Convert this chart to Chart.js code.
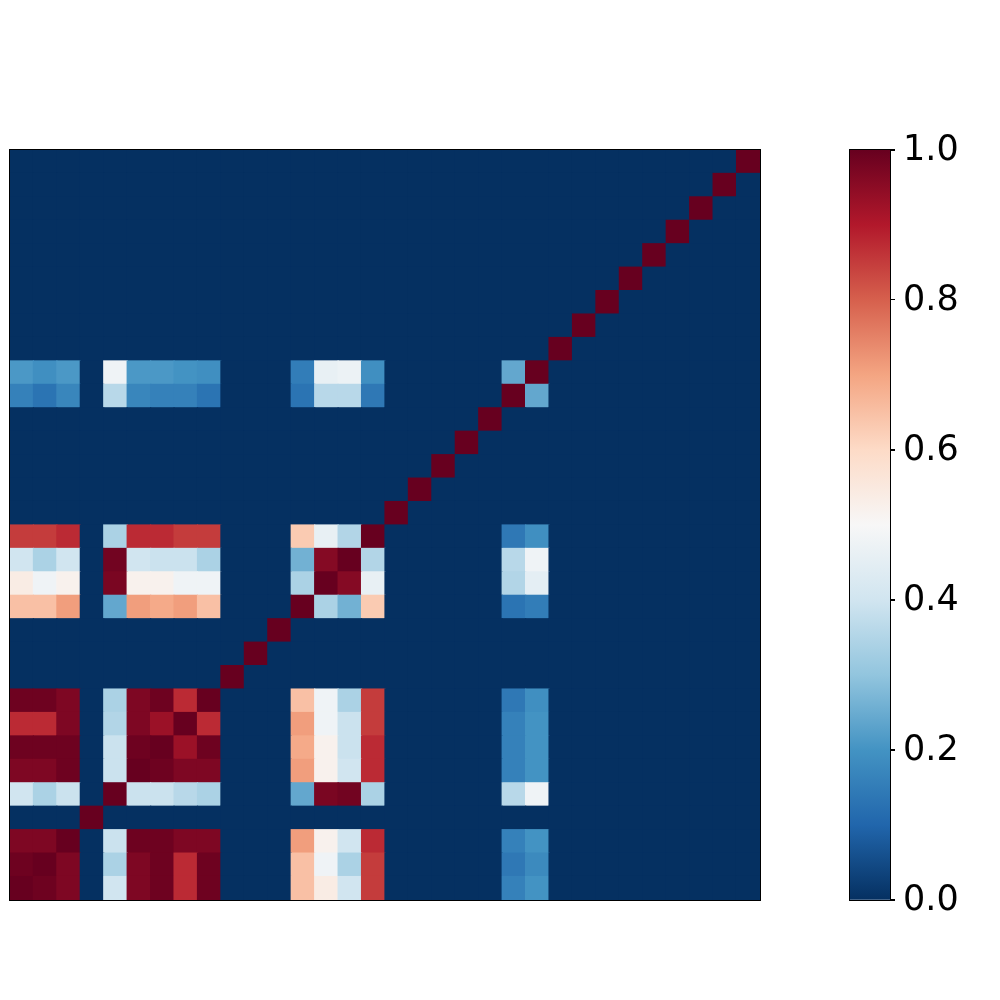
<!DOCTYPE html>
<html>
<head>
<meta charset="utf-8">
<script src="https://cdn.jsdelivr.net/npm/chart.js@4/dist/chart.umd.min.js"></script>
<style>
  html, body { margin: 0; padding: 0; background: #ffffff; }
  #wrap { position: relative; width: 1000px; height: 1000px; }
  #heat { position: absolute; left: 0; top: 0; }
  #cbar { position: absolute; left: 840px; top: 120px; }
</style>
</head>
<body>
<div id="wrap">
  <canvas id="heat" width="1000" height="1000"></canvas>
  <canvas id="cbar" width="160" height="810"></canvas>
</div>
<script>
// ---- DATA ----
const nVars = 32;
const categories = Array.from({ length: nVars }, (_, i) => String(i));
// variables that have non-trivial correlations (others only correlate with themselves)
const activeVars = [0, 1, 2, 4, 5, 6, 7, 8, 12, 13, 14, 15, 21, 22];
// one row per active variable, values in activeVars order
const r0  = [1.00, 0.99, 0.97, 0.40, 0.97, 0.99, 0.875, 0.99, 0.65, 0.54, 0.40, 0.85, 0.16, 0.20];
const r1  = [0.99, 1.00, 0.97, 0.34, 0.97, 0.99, 0.875, 0.99, 0.65, 0.48, 0.34, 0.85, 0.14, 0.18];
const r2  = [0.97, 0.97, 1.00, 0.39, 0.99, 0.99, 0.97, 0.97, 0.71, 0.52, 0.40, 0.875, 0.16, 0.20];
const r4  = [0.40, 0.34, 0.39, 1.00, 0.39, 0.39, 0.36, 0.34, 0.24, 0.975, 0.985, 0.34, 0.36, 0.48];
const r5  = [0.97, 0.97, 0.99, 0.39, 1.00, 0.99, 0.97, 0.97, 0.71, 0.52, 0.40, 0.875, 0.16, 0.20];
const r6  = [0.99, 0.99, 0.99, 0.39, 0.99, 1.00, 0.93, 0.99, 0.69, 0.52, 0.39, 0.875, 0.16, 0.20];
const r7  = [0.875, 0.875, 0.97, 0.35, 0.97, 0.93, 1.00, 0.875, 0.71, 0.48, 0.39, 0.85, 0.16, 0.20];
const r8  = [0.99, 0.99, 0.97, 0.34, 0.97, 0.99, 0.875, 1.00, 0.65, 0.48, 0.34, 0.85, 0.14, 0.19];
const r12 = [0.65, 0.65, 0.71, 0.24, 0.71, 0.69, 0.71, 0.65, 1.00, 0.34, 0.26, 0.63, 0.13, 0.15];
const r13 = [0.54, 0.48, 0.52, 0.975, 0.52, 0.52, 0.48, 0.48, 0.34, 1.00, 0.96, 0.46, 0.35, 0.45];
const r14 = [0.40, 0.34, 0.40, 0.985, 0.40, 0.39, 0.39, 0.34, 0.26, 0.96, 1.00, 0.35, 0.36, 0.48];
const r15 = [0.85, 0.85, 0.875, 0.34, 0.875, 0.875, 0.85, 0.85, 0.63, 0.46, 0.35, 1.00, 0.14, 0.19];
const r21 = [0.16, 0.13, 0.17, 0.36, 0.17, 0.16, 0.16, 0.13, 0.13, 0.36, 0.36, 0.14, 1.00, 0.24];
const r22 = [0.21, 0.19, 0.21, 0.48, 0.21, 0.21, 0.20, 0.19, 0.15, 0.46, 0.47, 0.19, 0.24, 1.00];
const activeRows = [r0, r1, r2, r4, r5, r6, r7, r8, r12, r13, r14, r15, r21, r22];
const colorbarTicks = [0.0, 0.2, 0.4, 0.6, 0.8, 1.0];

// ---- build full matrix ----
const matrix = [];
for (let i = 0; i < nVars; i++) {
  const row = new Array(nVars).fill(0);
  row[i] = 1;
  matrix.push(row);
}
activeVars.forEach((vi, a) => {
  activeVars.forEach((vj, b) => { matrix[vi][vj] = activeRows[a][b]; });
});

// ---- RdBu_r colormap ----
const rdbuR = ['#053061', '#2166ac', '#4393c3', '#92c5de', '#d1e5f0', '#f7f7f7',
               '#fddbc7', '#f4a582', '#d6604d', '#b2182b', '#67001f'];
function hexToRgb(h) { return [parseInt(h.slice(1, 3), 16), parseInt(h.slice(3, 5), 16), parseInt(h.slice(5, 7), 16)]; }
const rdbuRgb = rdbuR.map(hexToRgb);
function cmap(v) {
  v = Math.max(0, Math.min(1, v));
  const p = v * 10;
  const i = Math.min(9, Math.floor(p));
  const t = p - i;
  const a = rdbuRgb[i], b = rdbuRgb[i + 1];
  const c = a.map((x, k) => Math.round(x + (b[k] - x) * t));
  return `rgb(${c[0]},${c[1]},${c[2]})`;
}

const framePlugin = {
  id: 'frame',
  afterDraw(chart) {
    const { ctx, chartArea: a } = chart;
    ctx.save();
    ctx.strokeStyle = '#000';
    ctx.lineWidth = 1;
    ctx.strokeRect(Math.round(a.left) - 0.5, Math.round(a.top) - 0.5,
                   Math.round(a.right - a.left) + 1, Math.round(a.bottom - a.top) + 1);
    // colorbar tick marks (only on charts that have a visible y scale)
    const ys = chart.scales.y;
    if (ys && ys.options.display) {
      ctx.beginPath();
      colorbarTicks.forEach(v => {
        const y = Math.round(ys.getPixelForValue(v)) - 0.5;
        ctx.moveTo(Math.round(a.right), y);
        ctx.lineTo(Math.round(a.right) + 5, y);
      });
      ctx.stroke();
    }
    ctx.restore();
  }
};

// ---- heatmap: stacked bars, one dataset per row (bottom to top) ----
const datasets = matrix.map((row, ri) => ({
  label: 'row ' + ri,
  data: row.map(() => 1),
  values: row,
  backgroundColor: (ctx) => cmap(ctx.dataset.values[ctx.dataIndex]),
  borderWidth: 0,
  inflateAmount: 0.6,
  categoryPercentage: 1.0,
  barPercentage: 1.0
}));

new Chart(document.getElementById('heat'), {
  type: 'bar',
  data: { labels: categories, datasets },
  options: {
    responsive: false,
    animation: false,
    layout: { padding: { left: 10, top: 150, right: 240, bottom: 100 } },
    plugins: { legend: { display: false }, tooltip: { enabled: false } },
    scales: {
      x: { display: false, stacked: true },
      y: { display: false, stacked: true, min: 0, max: nVars }
    }
  },
  plugins: [framePlugin]
});

// ---- colorbar ----
new Chart(document.getElementById('cbar'), {
  type: 'bar',
  data: {
    labels: [''],
    datasets: [{
      data: [1],
      backgroundColor: (ctx) => {
        const chart = ctx.chart;
        const a = chart.chartArea;
        if (!a) return '#888';
        const g = chart.ctx.createLinearGradient(0, a.bottom, 0, a.top);
        rdbuR.forEach((c, i) => g.addColorStop(i / 10, c));
        return g;
      },
      borderWidth: 0,
      categoryPercentage: 1.0,
      barPercentage: 1.0
    }]
  },
  options: {
    responsive: false,
    animation: false,
    layout: { padding: { left: 10, top: 30, right: 0, bottom: 30 } },
    plugins: { legend: { display: false }, tooltip: { enabled: false } },
    scales: {
      x: { display: false },
      y: {
        position: 'right',
        min: 0, max: 1,
        afterBuildTicks: (scale) => { scale.ticks = colorbarTicks.map(v => ({ value: v })); },
        afterFit: (scale) => { scale.width = 110; },
        ticks: {
          color: '#000',
          padding: 8,
          labelOffset: 1,
          font: { family: 'DejaVu Sans', size: 35 },
          callback: (v) => Number(v).toFixed(1)
        },
        grid: { drawOnChartArea: false, drawTicks: true, tickLength: 5, color: '#000', tickColor: '#000', lineWidth: 1 },
        border: { display: true, color: '#000', width: 1 }
      }
    }
  },
  plugins: [framePlugin]
});
</script>
</body>
</html>
